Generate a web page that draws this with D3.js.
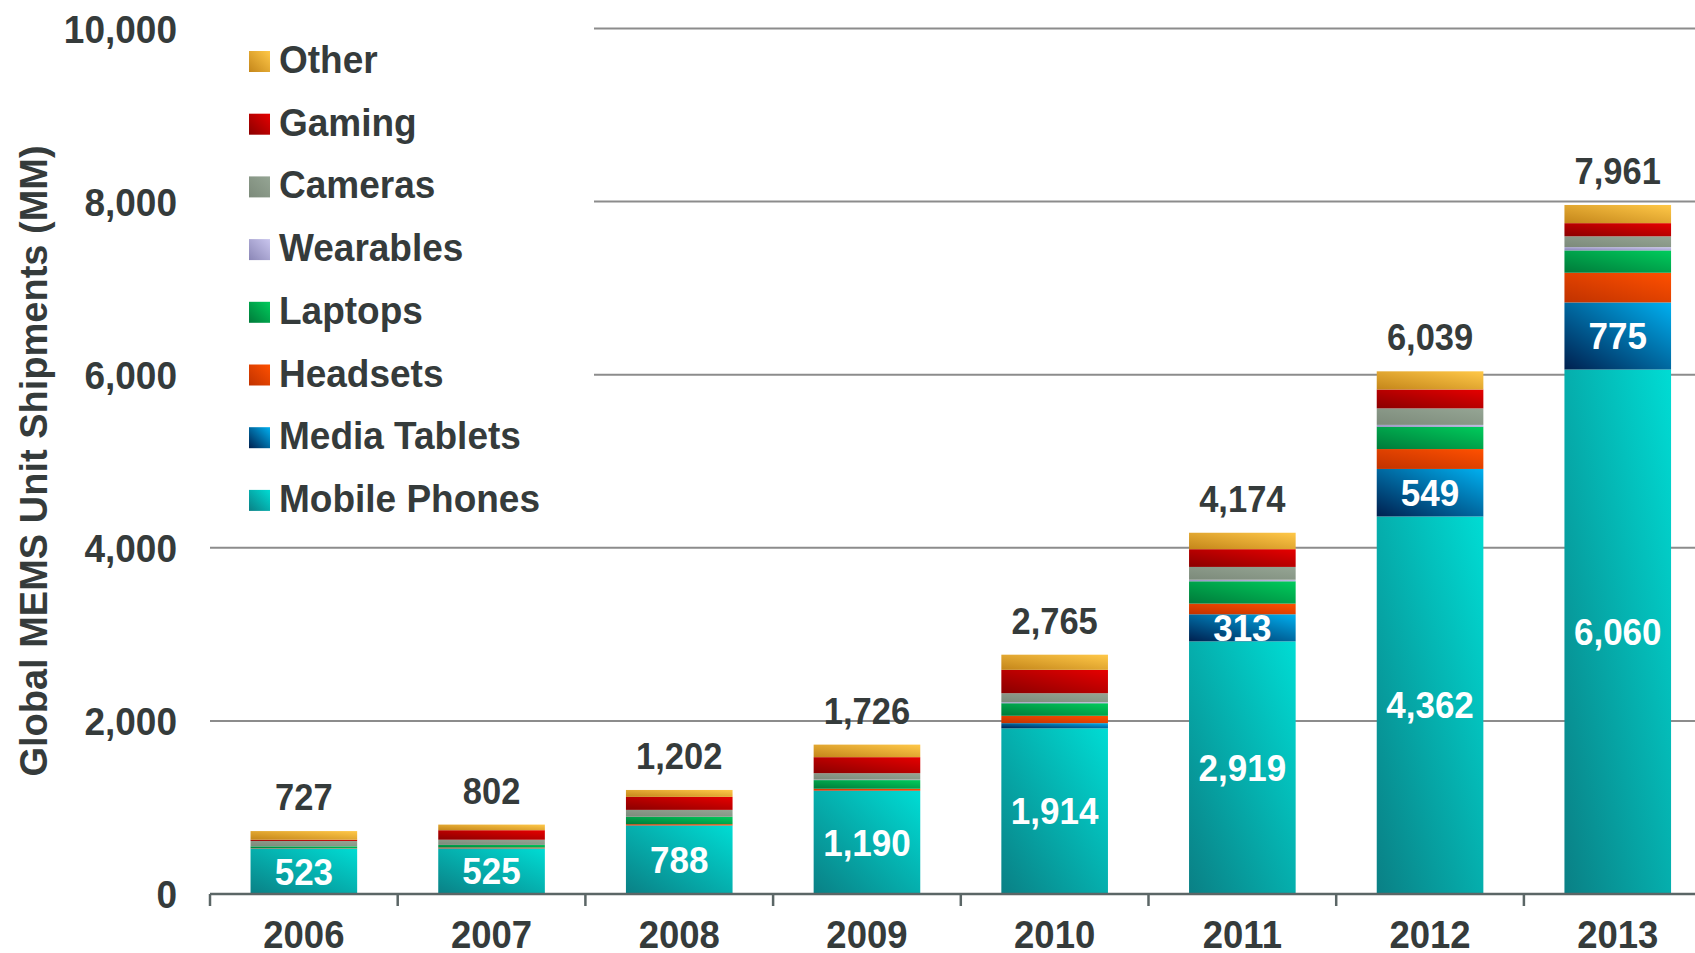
<!DOCTYPE html>
<html>
<head>
<meta charset="utf-8">
<script src="https://cdn.jsdelivr.net/npm/d3@7"></script>
<style>
  body { margin: 0; background: #fff; }
  text { font-family: Arial, "Liberation Sans", sans-serif; font-weight: bold; }
</style>
</head>
<body>
<div class="chartContainer"></div>
<script>
// Data (MM units)
const years = ["2006", "2007", "2008", "2009", "2010", "2011", "2012", "2013"];
const mobilePhones = [523, 525, 788, 1190, 1914, 2919, 4362, 6060];
const mediaTablets = [2, 2, 4, 4, 60, 313, 549, 775];
const headsets = [4, 10, 15, 22, 85, 123, 230, 343];
const laptops = [22, 30, 85, 100, 145, 258, 257, 258];
const wearables = [0, 0, 0, 5, 12, 18, 22, 38];
const cameras = [62, 60, 80, 75, 104, 148, 191, 125];
const gaming = [14, 110, 150, 185, 270, 205, 218, 152];
const other = [100, 65, 80, 145, 175, 190, 210, 210];
const yTicks = [0, 2000, 4000, 6000, 8000, 10000];

// Bottom to top stacking order
const seriesNames = ["Mobile Phones", "Media Tablets", "Headsets", "Laptops", "Wearables", "Cameras", "Gaming", "Other"];
const seriesValues = [mobilePhones, mediaTablets, headsets, laptops, wearables, cameras, gaming, other];
// dark / light end of each gradient
const seriesColors = [
  ["#0a8085", "#00dcd4"],
  ["#00204f", "#00b0f0"],
  ["#c03200", "#ff5000"],
  ["#007a3a", "#00cc5c"],
  ["#8a86b6", "#cac6ee"],
  ["#7c8a7a", "#95a594"],
  ["#8a0000", "#e60000"],
  ["#c4861a", "#ffc848"]
];
// series whose values get printed inside the bar
const labelledSeries = { "Mobile Phones": [0, 1, 2, 3, 4, 5, 6, 7], "Media Tablets": [5, 6, 7] };

const width = 1695, height = 953;
const stretch = 1.05; // text in the picture is a bit taller than it is wide
const ink = "#353b3b";

const table = years.map((y, i) => {
  const row = { year: y };
  seriesNames.forEach((s, j) => { row[s] = seriesValues[j][i]; });
  return row;
});

const svg = d3.select(".chartContainer")
  .append("svg")
  .attr("width", width)
  .attr("height", height);

// Gradients
const defs = svg.append("defs");
seriesNames.forEach((s, j) => {
  const g = defs.append("linearGradient")
    .attr("id", "grad" + j)
    .attr("x1", 0).attr("y1", 1).attr("x2", 1).attr("y2", 0);
  g.append("stop").attr("offset", "0%").attr("stop-color", seriesColors[j][0]);
  g.append("stop").attr("offset", "100%").attr("stop-color", seriesColors[j][1]);
});

// Scales
const x = d3.scaleBand()
  .domain(years)
  .range([210, 210 + 8 * 187.7])
  .paddingInner(0.432)
  .paddingOuter(0.216);
const y = d3.scaleLinear()
  .domain([0, 10000])
  .range([894, 28.5]);

function place(sel, px, py) {
  return sel.attr("transform", `translate(${px},${py}) scale(1,${stretch})`);
}

// Gridlines
svg.append("g")
  .selectAll("line")
  .data(yTicks.filter(d => d > 0))
  .enter()
  .append("line")
  .attr("x1", 210)
  .attr("x2", width)
  .attr("y1", d => y(d))
  .attr("y2", d => y(d))
  .attr("stroke", "#8c8c8c")
  .attr("stroke-width", 2);

// Y axis labels
const yAxis = svg.append("g")
  .attr("transform", "translate(177,0)")
  .call(d3.axisLeft(y).tickValues(yTicks).tickSize(0).tickPadding(0).tickFormat(d3.format(",")));
yAxis.select(".domain").remove();
yAxis.selectAll("text")
  .attr("font-size", 37)
  .attr("fill", ink)
  .attr("font-family", null)
  .attr("dy", "0.357em")
  .attr("transform", `scale(1,${stretch})`);

// Y axis title
svg.append("text")
  .attr("transform", "translate(47,461) rotate(-90)")
  .attr("text-anchor", "middle")
  .attr("font-size", 38)
  .attr("fill", ink)
  .text("Global MEMS Unit Shipments (MM)");

// Stacked bars
const stack = d3.stack().keys(seriesNames);
const layers = stack(table);

const layer = svg.append("g")
  .selectAll("g")
  .data(layers)
  .enter()
  .append("g")
  .attr("fill", (d, j) => `url(#grad${j})`);

layer.selectAll("rect")
  .data(d => d.filter(p => p[1] - p[0] > 0))
  .enter()
  .append("rect")
  .attr("x", d => x(d.data.year))
  .attr("width", x.bandwidth())
  .attr("y", d => y(d[1]))
  .attr("height", d => y(d[0]) - y(d[1]));

// Values inside bars
layers.forEach(l => {
  const idx = labelledSeries[l.key];
  if (!idx) return;
  idx.forEach(i => {
    const p = l[i];
    const cy = (y(p[0]) + y(p[1])) / 2;
    place(svg.append("text"), x(p.data.year) + x.bandwidth() / 2, cy + 13.2)
      .attr("text-anchor", "middle")
      .attr("font-size", 35)
      .attr("fill", "#fff")
      .text(d3.format(",")(p[1] - p[0]));
  });
});

// Totals above bars
table.forEach(row => {
  const total = d3.sum(seriesNames, s => row[s]);
  place(svg.append("text"), x(row.year) + x.bandwidth() / 2, y(total) - 21)
    .attr("text-anchor", "middle")
    .attr("font-size", 34.5)
    .attr("fill", ink)
    .text(d3.format(",")(total));
});

// X axis
const step = x.step();
svg.append("line")
  .attr("x1", 210).attr("x2", width)
  .attr("y1", 894).attr("y2", 894)
  .attr("stroke", "#5b6666")
  .attr("stroke-width", 2.5);
svg.append("g")
  .selectAll("line")
  .data(years)
  .enter()
  .append("line")
  .attr("x1", d => x(d) + x.bandwidth() / 2 - step / 2)
  .attr("x2", d => x(d) + x.bandwidth() / 2 - step / 2)
  .attr("y1", 894).attr("y2", 906)
  .attr("stroke", "#5b6666")
  .attr("stroke-width", 2.5);
years.forEach(yr => {
  place(svg.append("text"), x(yr) + x.bandwidth() / 2, 948)
    .attr("text-anchor", "middle")
    .attr("font-size", 36.5)
    .attr("fill", ink)
    .text(yr);
});

// Legend (white box hides the gridlines behind it)
svg.append("rect")
  .attr("x", 200).attr("y", 0)
  .attr("width", 394).attr("height", 528)
  .attr("fill", "#fff");
const legendOrder = seriesNames.slice().reverse();
legendOrder.forEach((s, k) => {
  const j = seriesNames.indexOf(s);
  const base = 73 + k * 62.7;
  svg.append("rect")
    .attr("x", 249).attr("y", base - 22)
    .attr("width", 21).attr("height", 21)
    .attr("fill", `url(#grad${j})`);
  place(svg.append("text"), 279, base)
    .attr("font-size", 37)
    .attr("fill", ink)
    .text(s);
});
</script>
</body>
</html>
